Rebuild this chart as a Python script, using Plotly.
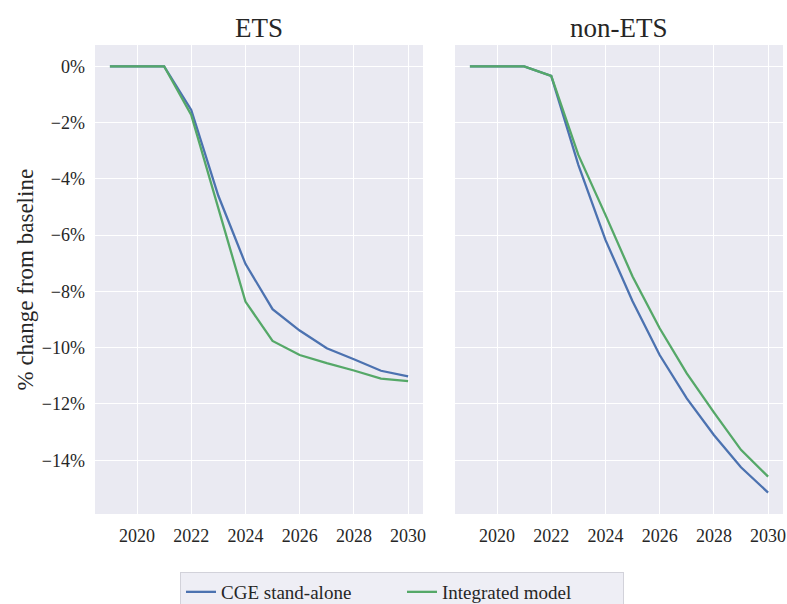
import plotly.graph_objects as go

# Model years
years = [2019, 2020, 2021, 2022, 2023, 2024, 2025, 2026, 2027, 2028, 2029, 2030]

# Emission change vs. baseline (%), ETS sectors
ets_cge = [0, 0, 0, -1.55, -4.6, -7.02, -8.63, -9.39, -10.02, -10.41, -10.82, -11.02]
ets_integrated = [0, 0, 0, -1.73, -5.05, -8.36, -9.76, -10.26, -10.55, -10.81, -11.1, -11.19]

# Emission change vs. baseline (%), non-ETS sectors
nonets_cge = [0, 0, 0, -0.34, -3.5, -6.17, -8.35, -10.26, -11.8, -13.1, -14.25, -15.15]
nonets_integrated = [0, 0, 0, -0.34, -3.15, -5.28, -7.47, -9.31, -10.91, -12.3, -13.63, -14.58]

series_names = ["CGE stand-alone", "Integrated model"]
panel_titles = ["ETS", "non-ETS"]
x_ticks = [2020, 2022, 2024, 2026, 2028, 2030]
y_ticks = [0, -2, -4, -6, -8, -10, -12, -14]

BLUE = "#4c72b0"
GREEN = "#55a868"
BG = "#eaeaf2"
TEXT = "#262626"
FONT = "Liberation Serif"
W, H = 787, 604

fig = go.Figure()

panels = [(ets_cge, ets_integrated, "x", "y"), (nonets_cge, nonets_integrated, "x2", "y2")]
for i, (cge, integ, xa, ya) in enumerate(panels):
    fig.add_trace(go.Scatter(x=years, y=cge, mode="lines", name=series_names[0],
                             line=dict(color=BLUE, width=2.3), xaxis=xa, yaxis=ya,
                             showlegend=(i == 0)))
    fig.add_trace(go.Scatter(x=years, y=integ, mode="lines", name=series_names[1],
                             line=dict(color=GREEN, width=2.3), xaxis=xa, yaxis=ya,
                             showlegend=(i == 0)))

xdom1 = [95 / W, 423 / W]
xdom2 = [455 / W, 783 / W]
ydom = [1 - 514 / H, 1 - 45 / H]

axis_common = dict(showgrid=True, gridcolor="white", gridwidth=1.3, zeroline=False,
                   showline=False, ticks="", tickfont=dict(family=FONT, size=18, color=TEXT))

fig.update_layout(
    width=W, height=H,
    margin=dict(l=0, r=0, t=0, b=0, autoexpand=False),
    paper_bgcolor="white",
    plot_bgcolor=BG,
    font=dict(family=FONT, color=TEXT),
    xaxis=dict(domain=xdom1, range=[2018.45, 2030.55], tickvals=x_ticks, anchor="y",
               ticklabelstandoff=9, **axis_common),
    xaxis2=dict(domain=xdom2, range=[2018.45, 2030.55], tickvals=x_ticks, anchor="y2",
                ticklabelstandoff=9, ticklabeloverflow="allow", **axis_common),
    yaxis=dict(domain=ydom, range=[-15.91, 0.757], tickvals=y_ticks,
               ticktext=[("\u2212" if v < 0 else "") + f"{abs(v)}%" for v in y_ticks],
               anchor="x", ticklabelstandoff=9, **axis_common),
    yaxis2=dict(domain=ydom, range=[-15.91, 0.757], tickvals=y_ticks, showticklabels=False,
                anchor="x2", matches="y", **axis_common),
    legend=dict(orientation="h", x=402 / W, xanchor="center", y=1 - 572 / H, yanchor="top",
                bgcolor="#eeeef5", bordercolor="#d2d2da", borderwidth=1,
                font=dict(family=FONT, size=19, color=TEXT),
                entrywidth=176, entrywidthmode="pixels"),
)

for title, dom in zip(panel_titles, [xdom1, xdom2]):
    fig.add_annotation(text=title, x=(dom[0] + dom[1]) / 2, y=1 - 28 / H,
                       xref="paper", yref="paper", xanchor="center", yanchor="middle",
                       showarrow=False, font=dict(family=FONT, size=27, color=TEXT))

fig.add_annotation(text="% change from baseline", x=25 / W, y=1 - 279.5 / H,
                   xref="paper", yref="paper", xanchor="center", yanchor="middle",
                   textangle=-90, showarrow=False,
                   font=dict(family=FONT, size=23, color=TEXT))

fig.write_html("out.html")
